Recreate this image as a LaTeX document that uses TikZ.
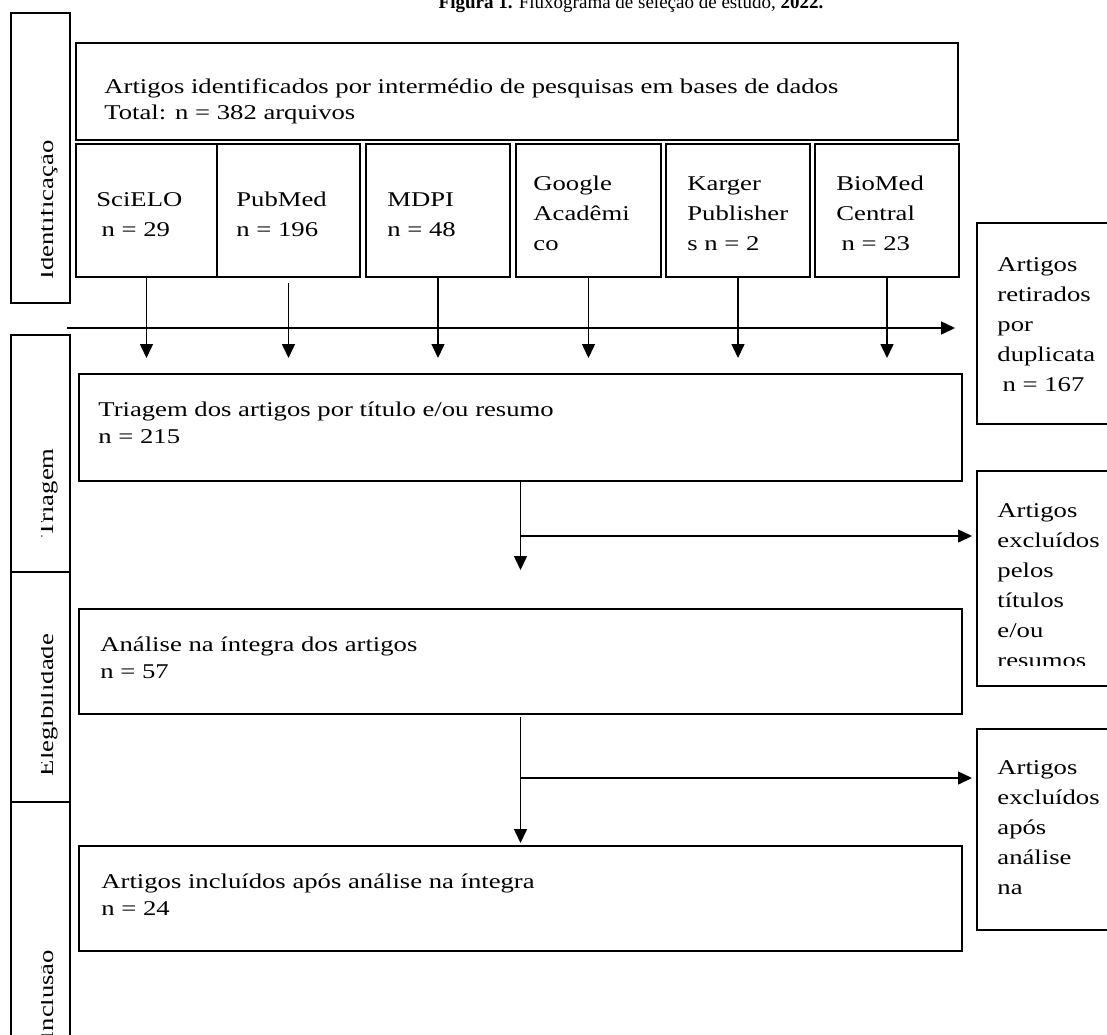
\documentclass[tikz,border=0pt]{standalone}
\usepackage{fontspec}
\setmainfont{Liberation Serif}[FakeStretch=1.27]
\newfontfamily\titlefont{Liberation Serif}
\usetikzlibrary{fit,arrows.meta}
\begin{document}
\begin{tikzpicture}[x=0.5pt,y=-0.5pt,
  box/.style={draw, line width=0.75pt, inner sep=0pt, outer sep=0pt},
  txt/.style={anchor=base west, inner sep=0pt, align=left, font=\fontsize{10.5}{13.5}\selectfont},
  stxt/.style={txt, font=\fontsize{10.5}{15}\selectfont},
  lab/.style={rotate=90, anchor=base, inner sep=0pt, font=\fontsize{10.5}{12}\selectfont},
  arr/.style={line width=0.75pt, -{Triangle[length=7pt,width=6.5pt]}}]
\useasboundingbox (0,0) rectangle (1107,1034);

% title (cut at the top, as in the reference)
\node[anchor=base, inner sep=0pt, font=\titlefont\fontsize{9.5}{11}\selectfont] (title) at (631,8)
  {\textbf{Figura 1.} Fluxograma de seleção de estudo, \textbf{2022.}};

% phase column
\node[box, fit={(11,13) (70,303)}] (idbox) {};
\node[box, fit={(11,335) (70,572)}] (tribar) {};
\node[box, fit={(11,572) (70,802)}] (elegbar) {};
\node[box, fit={(11,802) (70,1050)}] (inclbar) {};
\begin{scope}
  \clip (41,13) rectangle (70,303);
  \node[lab] (idlab) at (53,210) {Identificação};
\end{scope}
\begin{scope}
  \clip (41,335) rectangle (70,1034);
  \node[lab] (trilab) at (53,493) {Triagem};
  \node[lab] (eleglab) at (53,705) {Elegibilidade};
  \node[lab] (incllab) at (53,995) {Inclusão};
\end{scope}

% top box (anchor = baseline of the last line)
\node[box, fit={(76,43) (958,140)}] (topbox) {};
\node[txt, font=\fontsize{10.5}{13}\selectfont] (toptxt) at (104,119)
  {Artigos identificados por intermédio de pesquisas em bases de dados\\Total: n = 382 arquivos};

% source boxes
\node[box, fit={(76,144) (217,277)}] (scielo) {};
\node[box, fit={(217,144) (360,277)}] (pubmed) {};
\node[box, fit={(366,144) (510,277)}] (mdpi) {};
\node[box, fit={(516,144) (661,277)}] (google) {};
\node[box, fit={(666,144) (810,277)}] (karger) {};
\node[box, fit={(815,144) (959,277)}] (biomed) {};
\node[stxt] (scielotxt) at (96,236) {SciELO\\\hspace*{0.25em}n = 29};
\node[stxt] (pubmedtxt) at (236,236) {PubMed\\n = 196};
\node[stxt] (mdpitxt) at (387,236) {MDPI\\n = 48};
\node[stxt] (googletxt) at (533,250) {Google\\Acadêmi\\co};
\node[stxt] (kargertxt) at (687,250) {Karger\\Publisher\\s n = 2};
\node[stxt] (biomedtxt) at (836,250) {BioMed\\Central\\\hspace*{0.25em}n = 23};

% right boxes
\node[box, fit={(977,223) (1120,424)}] (dup) {};
\node[stxt] (duptxt) at (997,391) {Artigos\\retirados\\por\\duplicata\\\hspace*{0.25em}n = 167};
\node[box, fit={(977,471) (1120,686)}] (exc1) {};
\begin{scope}
  \clip (977,471) rectangle (1120,665);
  \node[stxt] (exc1txt) at (997,667) {Artigos\\excluídos\\pelos\\títulos\\e/ou\\resumos};
\end{scope}
\node[box, fit={(977,729) (1120,930)}] (exc2) {};
\node[stxt] (exc2txt) at (997,894) {Artigos\\excluídos\\após\\análise\\na};

% main flow boxes
\node[box, fit={(79,374) (962,481)}] (tribox) {};
\node[txt] (tritxt) at (98,443) {Triagem dos artigos por título e/ou resumo\\n = 215};
\node[box, fit={(79,609) (962,714)}] (analbox) {};
\node[txt] (analtxt) at (100,678) {Análise na íntegra dos artigos\\n = 57};
\node[box, fit={(79,846) (962,951)}] (inclbox) {};
\node[txt] (incltxt) at (101,915) {Artigos incluídos após análise na íntegra\\n = 24};

% connectors
\coordinate (tipy) at (0,358);
\foreach \b in {scielo,mdpi,google,karger,biomed}
  \draw[arr] (\b.south) -- (\b.south |- tipy);
\draw[arr, shorten <=3pt] (pubmed.south) -- (pubmed.south |- tipy);
\coordinate (hstart) at (67,328);
\draw[arr, shorten >=11pt] (hstart) -- (hstart -| dup.west);

\draw[arr, shorten >=19.5pt] (tribox.south) -- (analbox.north);
\coordinate (y536) at (0,536);
\draw[arr, shorten >=2.5pt] (tribox.south |- y536) -- (exc1.west |- y536);

\draw[arr, shorten <=1.5pt, shorten >=1.5pt] (analbox.south) -- (inclbox.north);
\coordinate (y778) at (0,778);
\draw[arr, shorten >=2.5pt] (analbox.south |- y778) -- (exc2.west |- y778);
\end{tikzpicture}
\end{document}
